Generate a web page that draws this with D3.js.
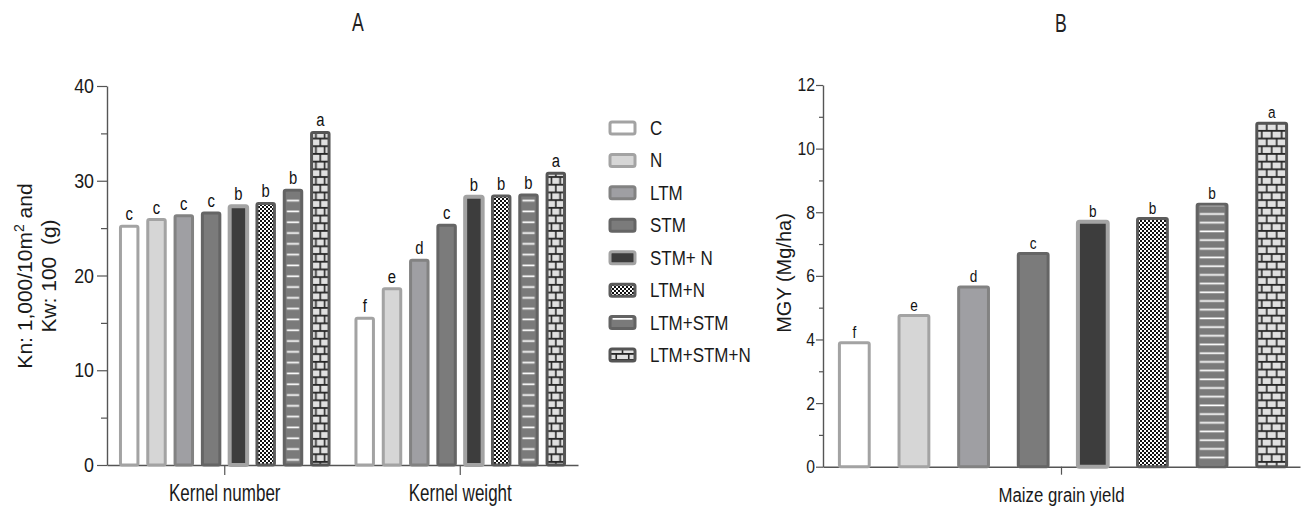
<!DOCTYPE html>
<html><head><meta charset="utf-8">
<script src="https://cdn.jsdelivr.net/npm/d3@7"></script>
<style>
html,body{margin:0;padding:0;background:#fff;}
svg{display:block;font-family:"Liberation Sans",Arial,sans-serif;}
</style></head>
<body><svg id="c" width="1307" height="508"></svg>
<script>
const treatments = ["C","N","LTM","STM","STM+ N","LTM+N","LTM+STM","LTM+STM+N"];
const groupsA = ["Kernel number","Kernel weight"];
const kernelNumber = [25.2,25.9,26.3,26.6,27.3,27.6,29.0,35.1];
const kernelNumberLetters = ["c","c","c","c","b","b","b","a"];
const kernelWeight = [15.5,18.6,21.6,25.3,28.3,28.4,28.5,30.8];
const kernelWeightLetters = ["f","e","d","c","b","b","b","a"];
const groupsB = ["Maize grain yield"];
const mgy = [3.9,4.75,5.65,6.7,7.7,7.8,8.25,10.8];
const mgyLetters = ["f","e","d","c","b","b","b","a"];
const ticksA = [0,10,20,30,40];
const minorA = [5,15,25,35];
const ticksB = [0,2,4,6,8,10,12];
const minorB = [1,3,5,7,9,11];

const svg = d3.select("#c");
const defs = svg.append("defs");

// condense text horizontally (reference uses a narrow face)
function cond(sel, sx){
  sel.each(function(){
    const t = d3.select(this);
    const x = +(t.attr("x")||0);
    t.attr("x", x/sx).attr("transform", (t.attr("transform")||"") + ` scale(${sx},1)`);
  });
}

// checkerboard
const chk = defs.append("pattern").attr("id","chk").attr("patternUnits","userSpaceOnUse").attr("width",4).attr("height",4);
chk.append("rect").attr("width",4).attr("height",4).attr("fill","#fff");
chk.append("rect").attr("width",2).attr("height",2).attr("fill","#111");
chk.append("rect").attr("x",2).attr("y",2).attr("width",2).attr("height",2).attr("fill","#111");

let pid = 0;
function hlinePattern(x, w, step){
  const id = "hl" + (pid++);
  const p = defs.append("pattern").attr("id",id).attr("patternUnits","userSpaceOnUse")
    .attr("x",x).attr("width",w).attr("height",step);
  p.append("rect").attr("width",w).attr("height",step).attr("fill","#7a7a7a");
  p.append("rect").attr("x",2.6).attr("y",step/2).attr("width",w-5.2).attr("height",1.7).attr("fill","#fff");
  return `url(#${id})`;
}
function brickPattern(x, w, n, h){
  const id = "br" + (pid++);
  const p = defs.append("pattern").attr("id",id).attr("patternUnits","userSpaceOnUse")
    .attr("x",x).attr("y",0).attr("width",w).attr("height",h*2);
  p.append("rect").attr("width",w).attr("height",h*2).attr("fill","#262626");
  const bw = w/n;
  for(let k=0;k<n;k++) p.append("rect").attr("x",k*bw+0.8).attr("y",0.8).attr("width",bw-1.6).attr("height",h-1.8).attr("fill","#e0e0e0");
  for(let k=-1;k<n;k++) p.append("rect").attr("x",k*bw+bw/2+0.8).attr("y",h+0.8).attr("width",bw-1.6).attr("height",h-1.8).attr("fill","#e0e0e0");
  return `url(#${id})`;
}

const baseStyles = [
  {fill:"#ffffff", stroke:"#a3a3a3"},
  {fill:"#d6d6d6", stroke:"#a3a3a3"},
  {fill:"#9f9fa3", stroke:"#828282"},
  {fill:"#7b7b7b", stroke:"#656565"},
  {fill:"#3d3d3d", stroke:"#a3a3a3"},
  {fill:"url(#chk)", stroke:"#5c5c5c"},
  {fill:null, stroke:"#636363"},
  {fill:null, stroke:"#555555"}
];
function fillFor(i, x, w, cfg){
  if(i===6) return hlinePattern(x, w, cfg.hstep);
  if(i===7) return brickPattern(x, w, cfg.nbrick, 7.7);
  return baseStyles[i].fill;
}

function axisStyle(g){
  g.selectAll("path.domain").attr("stroke","#555").attr("stroke-width",1.4);
  g.selectAll("line").attr("stroke","#555").attr("stroke-width",1.2);
}

function drawPanel(cfg){
  const {x0,x1,y,groups,values,letters,ticks,minor,pad,sw} = cfg;
  const gx = d3.scaleBand().domain(groups).range([x0,x1]).padding(0);
  const ya = svg.append("g").attr("transform",`translate(${x0},0)`)
    .call(d3.axisLeft(y).tickValues(ticks).tickSize(cfg.majorLen).tickSizeOuter(0).tickPadding(cfg.tickPad));
  ya.selectAll("text").attr("font-size",cfg.tickSize).attr("fill","#1a1a1a");
  cond(ya.selectAll("text"), cfg.tickSx);
  axisStyle(ya);
  svg.append("g").attr("transform",`translate(${x0},0)`)
    .call(d3.axisLeft(y).tickValues(minor).tickSize(cfg.minorLen).tickFormat(""))
    .call(g=>{g.select("path.domain").remove(); g.selectAll("line").attr("stroke","#555").attr("stroke-width",1.2);});
  const xa = svg.append("g").attr("transform",`translate(0,${y(0)})`)
    .call(d3.axisBottom(gx).tickSize(cfg.groupTick).tickSizeOuter(0));
  xa.selectAll("text").attr("font-size",cfg.labelSize).attr("fill","#1a1a1a").attr("y",cfg.labelY).attr("dy",0);
  cond(xa.selectAll("text"), cfg.labelSx);
  axisStyle(xa);
  groups.forEach((grp,gi)=>{
    const c0 = gx(grp), bw = gx.bandwidth();
    const inner = d3.scaleBand().domain(treatments).range(pad(c0,bw)).paddingInner(cfg.pi).paddingOuter(cfg.pi/2);
    const vals = values[gi], lets = letters[gi];
    const g = svg.append("g");
    g.selectAll("rect").data(treatments).join("rect")
      .attr("x",d=>inner(d)).attr("width",inner.bandwidth())
      .attr("y",(d,i)=>y(vals[i])).attr("height",(d,i)=>y(0)-y(vals[i]))
      .attr("rx",1.5)
      .attr("fill",(d,i)=>fillFor(i, inner(d), inner.bandwidth(), cfg))
      .attr("stroke",(d,i)=>baseStyles[i].stroke)
      .attr("stroke-width",(d,i)=>i===4?sw+1:sw);
    const lt = g.selectAll("text").data(treatments).join("text")
      .attr("x",d=>inner(d)+inner.bandwidth()/2)
      .attr("y",(d,i)=>y(vals[i])-cfg.letterGap)
      .attr("text-anchor","middle").attr("font-size",cfg.letterSize).attr("fill","#111")
      .text((d,i)=>lets[i]);
    cond(lt, cfg.letterSx);
  });
}

const yA = d3.scaleLinear().domain([0,40]).range([465,86]);
drawPanel({x0:107,x1:578,y:yA,groups:groupsA,values:[kernelNumber,kernelWeight],
  letters:[kernelNumberLetters,kernelWeightLetters],ticks:ticksA,minor:minorA,
  pad:(c,bw)=>[c+bw/2-109.2,c+bw/2+109.2],pi:0.36,sw:3,
  majorLen:10,minorLen:6,tickPad:3,tickSize:21,tickSx:0.85,
  groupTick:10,labelSize:23,labelSx:0.74,labelY:36,
  letterSize:19,letterSx:0.78,letterGap:6,hstep:10.8,nbrick:2});

const yB = d3.scaleLinear().domain([0,12]).range([466.7,85]);
drawPanel({x0:823,x1:1300,y:yB,groups:groupsB,values:[mgy],letters:[mgyLetters],
  ticks:ticksB,minor:minorB,
  pad:(c,bw)=>[c+1.5,c+bw+1.5],pi:0.5,sw:3,
  majorLen:7,minorLen:4,tickPad:1,tickSize:18.5,tickSx:0.85,
  groupTick:8,labelSize:21,labelSx:0.8,labelY:35,
  letterSize:17,letterSx:0.8,letterGap:5,hstep:8.7,nbrick:3});

// panel titles
const tA = svg.append("text").attr("x",358).attr("y",31).attr("text-anchor","middle").attr("font-size",26).attr("fill","#222").text("A");
cond(tA, 0.68);
const tB = svg.append("text").attr("x",1061).attr("y",32).attr("text-anchor","middle").attr("font-size",26).attr("fill","#222").text("B");
cond(tB, 0.68);

// y axis titles
const ytA = svg.append("text").attr("transform","translate(32,276) rotate(-90)").attr("text-anchor","middle").attr("font-size",21).attr("fill","#1a1a1a");
ytA.append("tspan").text("Kn: 1,000/10m");
ytA.append("tspan").attr("dy",-8).attr("font-size",14).text("2");
ytA.append("tspan").attr("dy",8).text(" and");
svg.append("text").attr("transform","translate(56,276) rotate(-90)").attr("text-anchor","middle").attr("font-size",21).attr("fill","#1a1a1a").attr("xml:space","preserve").text("Kw: 100  (g)");
svg.append("text").attr("transform","translate(791,273) rotate(-90)").attr("text-anchor","middle").attr("font-size",20).attr("fill","#1a1a1a").text("MGY (Mg/ha)");

// legend
const leg = svg.append("g");
const ly = d3.scalePoint().domain(treatments).range([128,355]);
treatments.forEach((t,i)=>{
  let fill = baseStyles[i].fill;
  if(i===6) fill = hlinePattern(610, 25, 12);
  if(i===7) fill = brickPattern(610, 25, 2, 6);
  leg.append("rect").attr("x",610).attr("y",ly(t)-6).attr("width",25).attr("height",12).attr("rx",2)
    .attr("fill",fill).attr("stroke",baseStyles[i].stroke).attr("stroke-width",3);
  const tx = leg.append("text").attr("x",650).attr("y",ly(t)+7).attr("font-size",20).attr("fill","#1a1a1a").text(t);
  cond(tx, 0.85);
});
</script></body></html>
